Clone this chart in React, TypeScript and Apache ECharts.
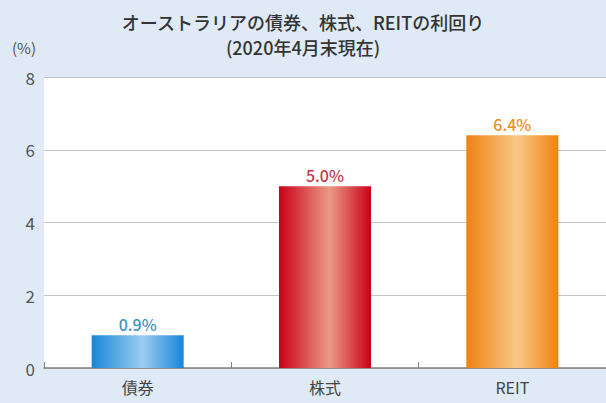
import React, { useEffect, useRef } from "react";
import * as echarts from "echarts";

const categories = ["債券", "株式", "REIT"];
const values = [0.9, 5.0, 6.4];
const valueLabels = ["0.9%", "5.0%", "6.4%"];
const yTicks = [0, 2, 4, 6, 8];

const edgeColors = ["#1686d6", "#cc0019", "#ee8210"];
const midColors = ["#9ccdf2", "#e99a86", "#f9c88a"];
const labelColors = ["#3f93bf", "#c23a4a", "#f08c22"];

export default function App() {
  const ref = useRef<HTMLDivElement>(null);
  useEffect(() => {
    if (!ref.current) return;
    const chart = echarts.init(ref.current, null, { renderer: "svg" });
    const font = "'Noto Sans CJK JP', 'Noto Sans', sans-serif";
    chart.setOption({
      animation: false,
      backgroundColor: "#dfeaf6",
      textStyle: { fontFamily: font },
      title: {
        text: "オーストラリアの債券、株式、REITの利回り\n(2020年4月末現在)",
        left: "center",
        top: 4,
        textStyle: {
          fontSize: 18,
          fontWeight: 500,
          color: "#333",
          lineHeight: 25,
          fontFamily: font,
        },
      },
      grid: {
        left: 44,
        right: 0,
        top: 77,
        bottom: 35,
        show: true,
        backgroundColor: "#ffffff",
        borderWidth: 0,
      },
      xAxis: {
        type: "category",
        data: categories,
        axisLine: { lineStyle: { color: "#808080", width: 1.5 } },
        axisTick: { show: true, inside: true, length: 6, lineStyle: { color: "#808080" } },
        axisLabel: { fontSize: 16, color: "#444", margin: 11, fontFamily: font },
      },
      yAxis: {
        type: "value",
        min: yTicks[0],
        max: yTicks[yTicks.length - 1],
        interval: 2,
        name: "(%)",
        nameLocation: "end",
        nameGap: 22,
        nameTextStyle: { fontSize: 15, color: "#555", align: "right", padding: [0, 8, 0, 0], fontFamily: font },
        axisLine: { show: false },
        axisTick: { show: false },
        axisLabel: { fontSize: 17, color: "#555", margin: 9, fontFamily: font },
        splitLine: { lineStyle: { color: "#c4c4c4", width: 1 } },
      },
      series: [
        {
          type: "bar",
          barWidth: 92,
          data: values.map((v, i) => ({
            value: v,
            itemStyle: {
              color: new echarts.graphic.LinearGradient(0, 0, 1, 0, [
                { offset: 0, color: edgeColors[i] },
                { offset: 0.55, color: midColors[i] },
                { offset: 1, color: edgeColors[i] },
              ]),
            },
            label: {
              show: true,
              position: "top",
              distance: 3,
              formatter: valueLabels[i],
              fontSize: 16,
              fontWeight: 500,
              color: labelColors[i],
              fontFamily: font,
            },
          })),
        },
      ],
    });
    return () => chart.dispose();
  }, []);
  return <div ref={ref} style={{ width: 606, height: 403, position: "fixed", left: 0, top: 0 }} />;
}
